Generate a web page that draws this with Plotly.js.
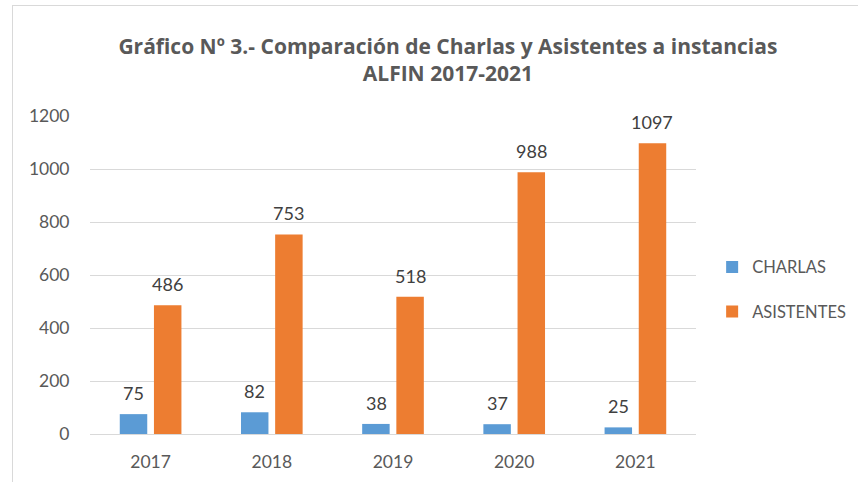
<!DOCTYPE html>
<html><head><meta charset="utf-8">
<script src="https://cdn.plot.ly/plotly-3.0.1.min.js"></script>
<style>
html,body{margin:0;padding:0;background:#fff;}
#wrap{position:relative;width:858px;height:482px;overflow:hidden;}
#chart{position:absolute;left:0;top:0;width:858px;height:482px;}
#frame{position:absolute;left:12px;top:5px;width:900px;height:600px;border-left:1px solid #d9d9d9;border-top:1px solid #d9d9d9;pointer-events:none;}
</style></head>
<body><div id="wrap"><div id="chart"></div><div id="frame"></div></div>
<script>
const years = ['2017','2018','2019','2020','2021'];
const charlas = [75, 82, 38, 37, 25];
const asistentes = [486, 753, 518, 988, 1097];
const seriesNames = ['CHARLAS','ASISTENTES'];
const colors = ['#5B9BD5','#ED7D31'];
const font = 'Lato, "Open Sans", sans-serif';
const titleFont = '"Open Sans", Lato, sans-serif';

const traces = [charlas, asistentes].map((vals, i) => ({
  type: 'bar', x: years, y: vals, name: seriesNames[i],
  marker: {color: colors[i]}, legendgroup: 'g' + i,
  hoverinfo: 'x+y'
}));

// data labels placed through the axes (category index on a category axis)
const annotations = [];
[charlas, asistentes].forEach((vals, i) => {
  vals.forEach((v, j) => {
    annotations.push({
      x: j, y: v, xref: 'x', yref: 'y', text: String(v),
      showarrow: false, xshift: i === 0 ? -17 : 17, yanchor: 'bottom', yshift: 8,
      font: {family: font, size: 18, color: '#404040'}
    });
  });
});

const layout = {
  width: 858, height: 482,
  margin: {l: 90, r: 162, t: 116, b: 48, autoexpand: false},
  paper_bgcolor: '#fff', plot_bgcolor: '#fff',
  title: {
    text: '<b>Gráfico Nº 3.- Comparación de Charlas y Asistentes a instancias<br>ALFIN 2017-2021</b>',
    font: {family: titleFont, size: 21, color: '#595959'},
    xref: 'container', x: 0.522, xanchor: 'center',
    yref: 'container', y: 0.888, yanchor: 'middle'
  },
  barmode: 'group', bargap: 0.436, bargroupgap: 0.196,
  xaxis: {
    type: 'category', showgrid: false, showline: false, ticks: 'outside', ticklen: 12, tickcolor: 'rgba(0,0,0,0)',
    tickfont: {family: font, size: 17.5, color: '#595959'}
  },
  yaxis: {
    range: [0, 1200], dtick: 200, tick0: 0,
    showgrid: true, gridcolor: '#d9d9d9', gridwidth: 1,
    zeroline: true, zerolinecolor: '#d9d9d9', zerolinewidth: 1,
    showline: false, ticks: 'outside', ticklen: 16, tickcolor: 'rgba(0,0,0,0)',
    tickfont: {family: font, size: 17.5, color: '#595959'}
  },
  legend: {
    xref: 'container', x: 0.83, xanchor: 'left', y: 0.455, yanchor: 'middle',
    font: {family: font, size: 16.5, color: '#595959'},
    traceorder: 'grouped', tracegroupgap: 20
  },
  annotations: annotations,
  showlegend: true
};

Plotly.newPlot('chart', traces, layout, {displayModeBar: false, staticPlot: true});
</script></body></html>
